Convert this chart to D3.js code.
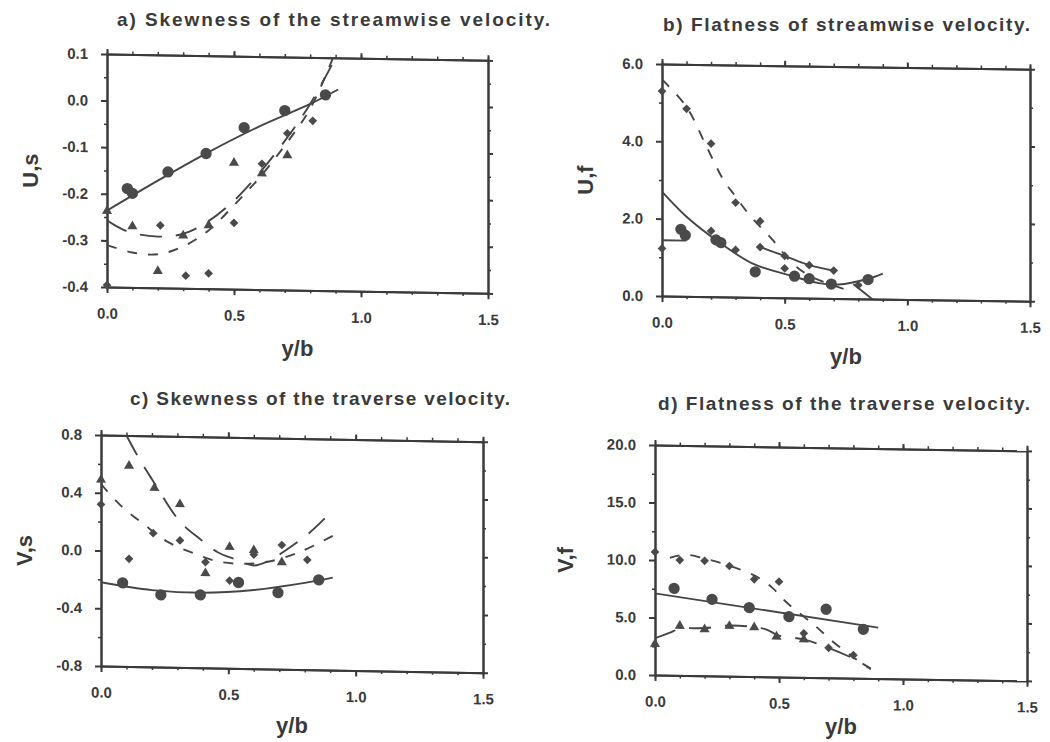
<!DOCTYPE html>
<html>
<head>
<meta charset="utf-8">
<script src="https://cdn.jsdelivr.net/npm/d3@7"></script>
<style>
  body { margin: 0; background: #fff; }
  svg { display: block; }
  text { font-family: "Liberation Sans", Arial, sans-serif; font-weight: bold; fill: #3a3a3a; }
</style>
</head>
<body>
<script>
// shared x axis
const xMajor = [0, 0.5, 1.0, 1.5];
const xMinor = [0, 0.1, 0.2, 0.3, 0.4, 0.5, 0.6, 0.7, 0.8, 0.9, 1.0, 1.1, 1.2, 1.3, 1.4, 1.5];

// a) skewness of streamwise velocity
const aYTicks = [-0.4, -0.3, -0.2, -0.1, 0.0, 0.1];
const aYMinor = [-0.35, -0.25, -0.15, -0.05, 0.05];
const aCircles = [[0.08, -0.188], [0.1, -0.198], [0.24, -0.151], [0.39, -0.11], [0.54, -0.053], [0.7, -0.015], [0.86, 0.02]];
const aTriangles = [[0, -0.237], [0.1, -0.269], [0.2, -0.364], [0.3, -0.287], [0.4, -0.264], [0.5, -0.129], [0.61, -0.151], [0.71, -0.111]];
const aDiamonds = [[0, -0.396], [0.21, -0.266], [0.31, -0.373], [0.4, -0.367], [0.5, -0.258], [0.61, -0.13], [0.71, -0.064], [0.81, -0.036]];
const aFitCircles = [[0, -0.236], [0.2, -0.17], [0.4, -0.107], [0.6, -0.05], [0.8, 0.0], [0.91, 0.032]];
const aFitTriangles = [[0, -0.257], [0.08, -0.28], [0.2, -0.29], [0.3, -0.283], [0.4, -0.255], [0.5, -0.21], [0.6, -0.15], [0.7, -0.08], [0.8, 0.0], [0.9, 0.1]];
const aFitDiamonds = [[0, -0.31], [0.1, -0.325], [0.2, -0.328], [0.3, -0.31], [0.4, -0.275], [0.5, -0.22], [0.6, -0.16], [0.7, -0.09], [0.8, -0.01], [0.89, 0.1]];

// b) flatness of streamwise velocity
const bYTicks = [0, 2, 4, 6];
const bYMinor = [1, 3, 5];
const bCircles = [[0.077, 1.73], [0.095, 1.58], [0.22, 1.47], [0.24, 1.4], [0.38, 0.66], [0.54, 0.56], [0.6, 0.5], [0.69, 0.37], [0.84, 0.5]];
const bDiamonds = [[0, 1.23], [0, 5.3], [0.1, 4.85], [0.2, 3.96], [0.3, 2.44], [0.4, 1.97], [0.2, 1.7], [0.3, 1.22], [0.4, 1.3], [0.5, 1.08], [0.5, 0.76], [0.6, 0.85], [0.7, 0.72], [0.8, 0.35]];
const bFitCircles = [[0, 2.7], [0.1, 2.06], [0.24, 1.38], [0.37, 0.87], [0.51, 0.6], [0.64, 0.39], [0.72, 0.36], [0.84, 0.52], [0.9, 0.66]];
const bFitDiamonds = [[0, 5.6], [0.1, 4.9], [0.18, 3.9], [0.25, 3.03], [0.3, 2.6], [0.36, 2.1], [0.45, 1.5], [0.53, 0.9], [0.61, 0.55], [0.74, 0.25]];
const bLinkDiamonds = [[0.4, 1.3], [0.5, 1.08], [0.6, 0.85], [0.7, 0.72]];
const bStep = [[0, 1.44], [0.1, 1.44]];
const bTail = [[0.78, 0.38], [0.86, -0.02]];

// c) skewness of traverse velocity
const cYTicks = [-0.8, -0.4, 0.0, 0.4, 0.8];
const cYMinor = [-0.6, -0.2, 0.2, 0.6];
const cCircles = [[0.085, -0.222], [0.235, -0.3], [0.39, -0.295], [0.54, -0.205], [0.695, -0.27], [0.855, -0.177]];
const cTriangles = [[0, 0.49], [0.11, 0.59], [0.21, 0.44], [0.31, 0.33], [0.41, -0.145], [0.505, 0.04], [0.6, 0.02], [0.71, -0.06]];
const cDiamonds = [[0, 0.32], [0.11, -0.054], [0.205, 0.126], [0.31, 0.079], [0.41, -0.068], [0.505, -0.193], [0.6, -0.01], [0.71, 0.06], [0.81, -0.04]];
const cFitCircles = [[0, -0.22], [0.2, -0.268], [0.4, -0.28], [0.6, -0.255], [0.8, -0.2], [0.91, -0.16]];
const cFitTriangles = [[0.1, 0.8], [0.15, 0.64], [0.2, 0.5], [0.31, 0.21], [0.39, 0.09], [0.46, 0.0], [0.52, -0.04], [0.6, -0.085], [0.66, -0.05], [0.73, 0.03], [0.82, 0.15], [0.89, 0.27]];
const cFitDiamonds = [[0, 0.46], [0.08, 0.31], [0.166, 0.19], [0.264, 0.066], [0.37, -0.012], [0.454, -0.06], [0.55, -0.075], [0.65, -0.06], [0.78, 0.013], [0.91, 0.13]];

// d) flatness of traverse velocity
const dYTicks = [0, 5, 10, 15, 20];
const dYMinor = [2.5, 7.5, 12.5, 17.5];
const dCircles = [[0.077, 7.56], [0.23, 6.66], [0.38, 5.99], [0.54, 5.26], [0.69, 5.95], [0.84, 4.26]];
const dTriangles = [[0, 2.7], [0.1, 4.3], [0.2, 4.04], [0.3, 4.36], [0.4, 4.28], [0.49, 3.5], [0.6, 3.3]];
const dDiamonds = [[0, 10.7], [0.1, 10.03], [0.2, 10.0], [0.3, 9.58], [0.4, 8.46], [0.5, 8.28], [0.6, 3.83], [0.7, 2.6], [0.8, 2.0]];
const dFitCircles = [[0, 7.1], [0.9, 4.42]];
const dFitDiamonds = [[0.06, 10.2], [0.12, 10.5], [0.2, 10.2], [0.3, 9.6], [0.4, 8.8], [0.47, 7.8], [0.53, 6.5], [0.64, 4.6], [0.72, 3.1], [0.8, 1.8], [0.87, 0.8]];
const dFitTriangles = [[0, 3.2], [0.06, 3.7], [0.1, 4.05], [0.2, 4.15], [0.3, 4.4], [0.4, 4.3], [0.45, 4.1], [0.5, 3.6], [0.6, 3.3], [0.7, 2.6], [0.8, 1.7], [0.87, 0.85]];

const SOLID = null;
const LONG = '22,14';
const SHORT = '10,11';

const panels = [
  {
    title: 'a) Skewness of the streamwise velocity.', titleX: 117, titleY: 26, titleW: 433,
    left: 107, top: 54, width: 381, height: 233, skew: 0.95,
    yDomain: [-0.4, 0.1], yTicks: aYTicks, yMinor: aYMinor,
    yLabel: 'U,s', yLabelX: 30, xLabelY: 356,
    lines: [[aFitCircles, SOLID], [aFitTriangles, LONG], [aFitDiamonds, SHORT]],
    marks: [[aCircles, 'circle'], [aTriangles, 'triangle'], [aDiamonds, 'diamond']],
  },
  {
    title: 'b) Flatness of streamwise velocity.', titleX: 663, titleY: 31, titleW: 367,
    left: 662, top: 64, width: 368, height: 232, skew: 0.8,
    yDomain: [0, 6], yTicks: bYTicks, yMinor: bYMinor,
    yLabel: 'U,f', yLabelX: 585, xLabelY: 364,
    lines: [[bFitCircles, SOLID], [bFitDiamonds, SHORT], [bLinkDiamonds, SOLID], [bStep, SOLID], [bTail, SOLID]],
    marks: [[bCircles, 'circle'], [bDiamonds, 'diamond']],
  },
  {
    title: 'c) Skewness of the traverse velocity.', titleX: 130, titleY: 405, titleW: 380,
    left: 101, top: 435, width: 382, height: 231, skew: 1.0,
    yDomain: [-0.8, 0.8], yTicks: cYTicks, yMinor: cYMinor,
    yLabel: 'V,s', yLabelX: 24, xLabelY: 733,
    lines: [[cFitCircles, SOLID], [cFitTriangles, LONG], [cFitDiamonds, SHORT]],
    marks: [[cCircles, 'circle'], [cTriangles, 'triangle'], [cDiamonds, 'diamond']],
  },
  {
    title: 'd) Flatness of the traverse velocity.', titleX: 658, titleY: 410, titleW: 372,
    left: 655, top: 445, width: 372, height: 230, skew: 0.9,
    yDomain: [0, 20], yTicks: dYTicks, yMinor: dYMinor,
    yLabel: 'V,f', yLabelX: 565, xLabelY: 734,
    lines: [[dFitCircles, SOLID], [dFitDiamonds, SHORT], [dFitTriangles, LONG]],
    marks: [[dCircles, 'circle'], [dTriangles, 'triangle'], [dDiamonds, 'diamond']],
  },
];

const ink = '#3a3a3a';
const fmt = (d) => d.toFixed(1);

const svg = d3.select('body')
  .append('svg')
  .attr('width', 1050)
  .attr('height', 742);

svg.append('rect').attr('width', 1050).attr('height', 742).attr('fill', '#fff');

const symbols = {
  circle: d3.symbol(d3.symbolCircle, 100),
  triangle: d3.symbol(d3.symbolTriangle, 44),
  diamond: d3.symbol(d3.symbolSquare, 38),
};

function styleAxis(sel, width) {
  sel.attr('font-size', null).attr('font-family', null);
  sel.select('.domain').attr('stroke', ink).attr('stroke-width', 2);
  sel.selectAll('.tick line').attr('stroke', ink).attr('stroke-width', width);
  sel.selectAll('.tick text').attr('font-size', 15).attr('fill', ink);
}

panels.forEach((p, i) => {
  const x = d3.scaleLinear().domain([0, 1.5]).range([0, p.width]);
  const y = d3.scaleLinear().domain(p.yDomain).range([p.height, 0]);

  svg.append('text')
    .attr('x', p.titleX)
    .attr('y', p.titleY)
    .attr('font-size', 19)
    .attr('textLength', p.titleW)
    .attr('lengthAdjust', 'spacing')
    .text(p.title);

  svg.append('text')
    .attr('x', p.left + p.width / 2)
    .attr('y', p.xLabelY)
    .attr('text-anchor', 'middle')
    .attr('font-size', 22)
    .text('y/b');

  const cy = p.top + p.height / 2;
  svg.append('text')
    .attr('transform', `translate(${p.yLabelX + 8},${cy}) rotate(-90)`)
    .attr('text-anchor', 'middle')
    .attr('font-size', 22)
    .text(p.yLabel);

  // the scanned frames slope slightly, hence the skew
  const g = svg.append('g')
    .attr('transform', `translate(${p.left},${p.top}) skewY(${p.skew})`);

  g.append('defs').append('clipPath')
    .attr('id', `clip${i}`)
    .append('rect')
    .attr('width', p.width)
    .attr('height', p.height);

  // axes: bottom / top / left / right with minor ticks
  g.append('g').attr('transform', `translate(0,${p.height})`)
    .call(d3.axisBottom(x).tickValues(xMinor).tickFormat('').tickSize(3).tickSizeOuter(0))
    .call((s) => styleAxis(s, 1.5));
  g.append('g').attr('transform', `translate(0,${p.height})`)
    .call(d3.axisBottom(x).tickValues(xMajor).tickFormat(fmt).tickSize(6).tickPadding(15).tickSizeOuter(0))
    .call((s) => styleAxis(s, 2));
  g.append('g')
    .call(d3.axisTop(x).tickValues(xMinor).tickFormat('').tickSize(3).tickSizeOuter(0))
    .call((s) => styleAxis(s, 1.5));
  g.append('g')
    .call(d3.axisTop(x).tickValues(xMajor).tickFormat('').tickSize(5).tickSizeOuter(0))
    .call((s) => styleAxis(s, 2));
  g.append('g')
    .call(d3.axisLeft(y).tickValues(p.yMinor).tickFormat('').tickSize(3).tickSizeOuter(0))
    .call((s) => styleAxis(s, 1.5));
  g.append('g')
    .call(d3.axisLeft(y).tickValues(p.yTicks).tickFormat(fmt).tickSize(6).tickPadding(13).tickSizeOuter(0))
    .call((s) => styleAxis(s, 2));
  g.append('g').attr('transform', `translate(${p.width},0)`)
    .call(d3.axisRight(y).tickValues(p.yMinor).tickFormat('').tickSize(3).tickSizeOuter(0))
    .call((s) => styleAxis(s, 1.5));
  g.append('g').attr('transform', `translate(${p.width},0)`)
    .call(d3.axisRight(y).tickValues(p.yTicks).tickFormat('').tickSize(5).tickSizeOuter(0))
    .call((s) => styleAxis(s, 2));

  const line = d3.line()
    .x((d) => x(d[0]))
    .y((d) => y(d[1]))
    .curve(d3.curveCatmullRom.alpha(0.5));

  const lineG = g.append('g').attr('clip-path', `url(#clip${i})`);
  p.lines.forEach(([pts, dash]) => {
    lineG.append('path')
      .datum(pts)
      .attr('d', line)
      .attr('fill', 'none')
      .attr('stroke', '#454545')
      .attr('stroke-width', 1.9)
      .attr('stroke-dasharray', dash);
  });

  p.marks.forEach(([pts, kind]) => {
    g.append('g')
      .selectAll('path')
      .data(pts)
      .join('path')
      .attr('d', symbols[kind])
      .attr('transform', (d) => `translate(${x(d[0])},${y(d[1])})${kind === 'diamond' ? ' rotate(45)' : ''}`)
      .attr('fill', '#4a4a4a');
  });
});
</script>
</body>
</html>
